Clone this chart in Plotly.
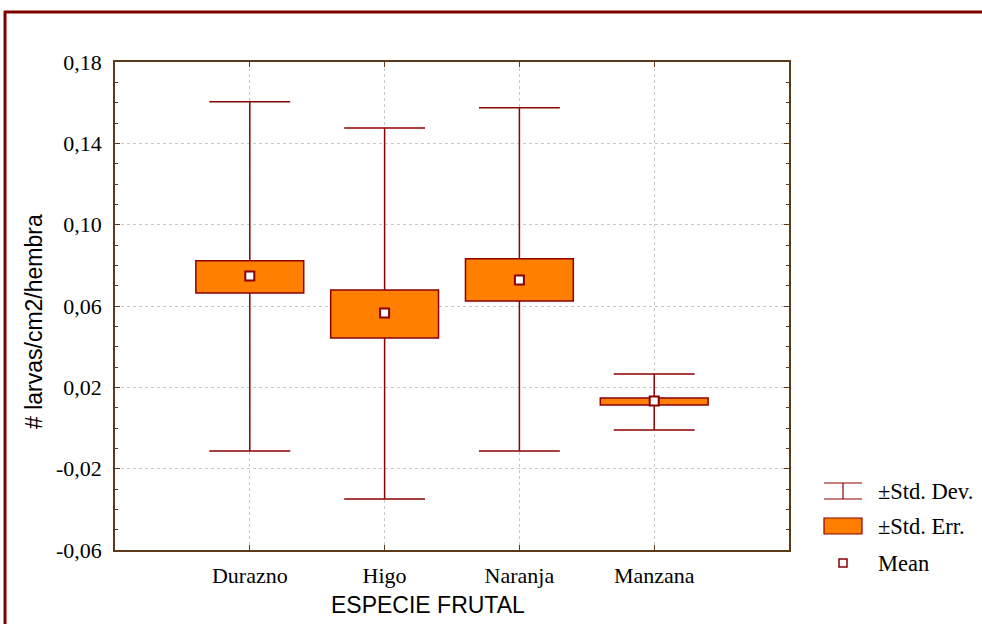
import plotly.graph_objects as go

categories = ["Durazno", "Higo", "Naranja", "Manzana"]
mean_vals = [0.0748, 0.0566, 0.0728, 0.0133]
se_low = [0.0664, 0.0443, 0.0625, 0.0113]
se_high = [0.0822, 0.0679, 0.0832, 0.0148]
sd_low = [-0.0113, -0.0349, -0.0113, -0.0010]
sd_high = [0.1604, 0.1476, 0.1575, 0.0266]
y_ticks = [-0.06, -0.02, 0.02, 0.06, 0.10, 0.14, 0.18]
y_tick_labels = ["-0,06", "-0,02", "0,02", "0,06", "0,10", "0,14", "0,18"]

W, H = 982, 624
ML, MR, MT, MB = 115, 193, 62, 74
PW, PH = W - ML - MR, H - MT - MB

def px(x):
    return (x - ML) / PW

def py(y):
    return (H - MB - y) / PH

DARK = "#8B0000"
ORANGE = "#FF8000"
AXIS = "#5a3a1a"

xs = list(range(len(categories)))
fig = go.Figure()

# Std. Err boxes
fig.add_trace(go.Bar(
    x=xs, y=[h - l for h, l in zip(se_high, se_low)], base=se_low,
    width=0.8, marker=dict(color=ORANGE, line=dict(color=DARK, width=1.5)),
    showlegend=False, hoverinfo="skip"))

# whiskers
wx, wy = [], []
for i in xs:
    wx += [i, i, None, i, i, None, i - 0.3, i + 0.3, None, i - 0.3, i + 0.3, None]
    wy += [sd_high[i], se_high[i], None, se_low[i], sd_low[i], None,
           sd_high[i], sd_high[i], None, sd_low[i], sd_low[i], None]
fig.add_trace(go.Scatter(x=wx, y=wy, mode="lines", line=dict(color=DARK, width=1.5),
                         showlegend=False, hoverinfo="skip"))

# means
fig.add_trace(go.Scatter(x=xs, y=mean_vals, mode="markers",
                         marker=dict(symbol="square", size=9, color="white",
                                     line=dict(color=DARK, width=2)),
                         showlegend=False))

shapes = []
# outer frame
shapes.append(dict(type="line", xref="paper", yref="paper", x0=px(5), x1=px(5), y0=py(11), y1=py(640),
                   line=dict(color="#800000", width=3)))
shapes.append(dict(type="line", xref="paper", yref="paper", x0=px(4), x1=px(1000), y0=py(12), y1=py(12),
                   line=dict(color="#800000", width=3)))
# legend symbols
lx0, lx1, lxc = 824, 862, 843
shapes.append(dict(type="line", xref="paper", yref="paper", x0=px(lx0), x1=px(lx1), y0=py(483), y1=py(483),
                   line=dict(color=DARK, width=1.2)))
shapes.append(dict(type="line", xref="paper", yref="paper", x0=px(lx0), x1=px(lx1), y0=py(499), y1=py(499),
                   line=dict(color=DARK, width=1.2)))
shapes.append(dict(type="line", xref="paper", yref="paper", x0=px(lxc), x1=px(lxc), y0=py(483), y1=py(499),
                   line=dict(color=DARK, width=1.2)))
shapes.append(dict(type="rect", xref="paper", yref="paper", x0=px(lx0), x1=px(lx1), y0=py(518), y1=py(534),
                   fillcolor=ORANGE, line=dict(color=DARK, width=1.2)))
shapes.append(dict(type="rect", xref="paper", yref="paper", x0=px(lxc - 4), x1=px(lxc + 4), y0=py(559), y1=py(567),
                   fillcolor="white", line=dict(color=DARK, width=1.5)))

annotations = []
for txt, yy in [("±Std. Dev.", 491), ("±Std. Err.", 526), ("Mean", 563)]:
    annotations.append(dict(text=txt, xref="paper", yref="paper", x=px(876), y=py(yy),
                            xanchor="left", yanchor="middle", showarrow=False,
                            font=dict(family="Liberation Serif", size=22.5, color="black")))
# axis titles
annotations.append(dict(text="ESPECIE FRUTAL", xref="paper", yref="paper", x=px(428), y=py(605),
                        xanchor="center", yanchor="middle", showarrow=False,
                        font=dict(family="Liberation Sans", size=23, color="black")))
annotations.append(dict(text="# larvas/cm2/hembra", xref="paper", yref="paper", x=px(34), y=py(322),
                        xanchor="center", yanchor="middle", showarrow=False, textangle=-90,
                        font=dict(family="Liberation Sans", size=23, color="black")))

fig.update_layout(
    width=W, height=H, margin=dict(l=ML, r=MR, t=MT, b=MB),
    paper_bgcolor="white", plot_bgcolor="white",
    shapes=shapes, annotations=annotations, showlegend=False,
    xaxis=dict(range=[-1, 4], tickvals=xs, ticktext=categories,
               showline=True, linecolor=AXIS, linewidth=1.5, mirror="ticks",
               ticks="inside", ticklen=5, tickcolor=AXIS, ticklabelstandoff=5,
               showgrid=True, gridcolor="#c8c8c8", griddash="dot", gridwidth=1,
               zeroline=False,
               tickfont=dict(family="Liberation Serif", size=22, color="black")),
    yaxis=dict(range=[-0.06, 0.18], tickvals=y_ticks, ticktext=y_tick_labels,
               showline=True, linecolor=AXIS, linewidth=1.5, mirror="ticks",
               ticks="inside", ticklen=5, tickcolor=AXIS, ticklabelstandoff=7,
               minor=dict(dtick=0.01, ticks="inside", ticklen=3, tickcolor=AXIS, showgrid=False),
               showgrid=True, gridcolor="#c8c8c8", griddash="dot", gridwidth=1,
               zeroline=False,
               tickfont=dict(family="Liberation Serif", size=22, color="black")),
)

fig.write_html("out.html", config={"displayModeBar": False},
               post_script="document.body.style.margin='0';document.body.style.overflow='hidden';")
